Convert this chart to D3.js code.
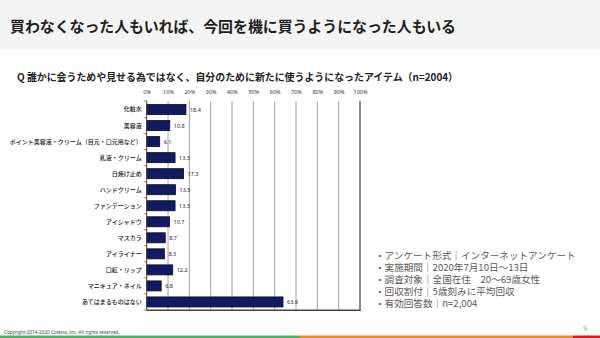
<!DOCTYPE html>
<html><head><meta charset="utf-8">
<script src="https://cdn.jsdelivr.net/npm/d3@7"></script>
<style>
html,body{margin:0;padding:0;background:#fff;}
svg{display:block;font-family:"Noto Sans CJK JP","Noto Sans",sans-serif;}
</style></head>
<body><svg id="c" width="600" height="338"></svg>
<script>
const categories = ["化粧水","美容液","ポイント美容液・クリーム（目元・口元用など）","乳液・クリーム","日焼け止め","ハンドクリーム","ファンデーション","アイシャドウ","マスカラ","アイライナー","口紅・リップ","マニキュア・ネイル","あてはまるものはない"];
const values = [18.4,10.8,6.1,13.3,17.3,13.5,13.3,10.7,8.7,8.3,12.2,6.8,63.9];
const tickValues = [0,10,20,30,40,50,60,70,80,90,100];
const title = "買わなくなった人もいれば、今回を機に買うようになった人もいる";
const subtitle = "Q 誰かに会うためや見せる為ではなく、自分のために新たに使うようになったアイテム（n=2004）";
const notes = ["・アンケート形式｜インターネットアンケート","・実施期間｜2020年7月10日～13日","・調査対象｜全国在住　20～69歳女性","・回収割付｜5歳刻みに平均回収","・有効回答数｜n=2,004"];
const copyright = "Copyright 2014-2020 Colexia, Inc. All rights reserved.";
const pageNo = "9";

const svg = d3.select("#c");
// header band
svg.append("rect").attr("x",0).attr("y",0).attr("width",600).attr("height",49).attr("fill","#f4f4f4");
svg.append("text").attr("x",10).attr("y",25.5).attr("dominant-baseline","central")
  .attr("font-size",15).attr("font-weight",700).attr("fill","#1e1e1e")
  .attr("textLength",446).attr("lengthAdjust","spacingAndGlyphs").text(title);
svg.append("text").attr("x",17).attr("y",76).attr("dominant-baseline","central")
  .attr("font-size",10.5).attr("font-weight",700).attr("fill","#222")
  .attr("textLength",441).attr("lengthAdjust","spacingAndGlyphs").text(subtitle);

const x = d3.scaleLinear().domain([0,100]).range([146.7,360]);
const y = d3.scaleBand().domain(categories).range([101.5,310]).paddingInner(0.375).paddingOuter(0.19);

const g = svg.append("g");
// gridlines
g.selectAll("line.grid").data(tickValues.filter(d=>d>0 && d<100)).join("line")
  .attr("x1",d=>x(d)).attr("x2",d=>x(d)).attr("y1",101).attr("y2",310)
  .attr("stroke","#8a8a8a").attr("stroke-width",0.8);
// top tick labels
const topAxis = d3.axisTop(x).tickValues(tickValues).tickFormat(d=>d+"%").tickSize(0).tickPadding(0);
const ta = g.append("g").attr("transform","translate(0,92)").call(topAxis);
ta.select(".domain").remove();
ta.selectAll("text").attr("font-size",5.5).attr("fill","#333").attr("dy","0.35em").attr("font-family","Noto Sans, sans-serif");

// bars
g.selectAll("rect.bar").data(values).join("rect")
  .attr("x",x(0)).attr("y",(d,i)=>y(categories[i]))
  .attr("width",d=>x(d)-x(0)).attr("height",y.bandwidth())
  .attr("fill","#101c5e").attr("stroke","#070b33").attr("stroke-width",0.8);
// value labels
g.selectAll("text.val").data(values).join("text")
  .attr("x",d=>x(d)+4).attr("y",(d,i)=>y(categories[i])+y.bandwidth()/2)
  .attr("dominant-baseline","central").attr("font-size",5.5).attr("fill","#222")
  .attr("font-family","Noto Sans, sans-serif").text(d=>d.toFixed(1));

// left axis with category labels
const leftAxis = d3.axisLeft(y).tickSize(0).tickPadding(5);
const la = g.append("g").attr("transform",`translate(${x(0)},0)`).call(leftAxis);
la.select(".domain").attr("stroke","#444").attr("stroke-width",1).attr("d",`M0,101V310`);
la.selectAll("text").attr("font-size",6).attr("fill","#111").attr("font-weight",500)
  .attr("font-family","Noto Sans CJK JP, sans-serif");
// band boundary ticks
const bounds = d3.range(categories.length+1).map(i=> i===0 ? 101 : (i===categories.length ? 310 : (y(categories[i-1])+y.bandwidth()+y(categories[i]))/2));
g.selectAll("line.bt").data(bounds).join("line")
  .attr("x1",x(0)-3).attr("x2",x(0)).attr("y1",d=>d).attr("y2",d=>d)
  .attr("stroke","#555").attr("stroke-width",0.7);
// right & bottom border
g.append("line").attr("x1",x(100)).attr("x2",x(100)).attr("y1",101).attr("y2",310.5).attr("stroke","#555").attr("stroke-width",1.4);
g.append("line").attr("x1",x(0)).attr("x2",x(100)+0.7).attr("y1",310.3).attr("y2",310.3).attr("stroke","#444").attr("stroke-width",1.4);

// notes
svg.append("g").selectAll("text").data(notes).join("text")
  .attr("x",375).attr("y",(d,i)=>255+i*12).attr("dominant-baseline","central")
  .attr("font-size",9.6).attr("fill","#595959").text(d=>d);

// footer
svg.append("text").attr("x",4).attr("y",331.5).attr("dominant-baseline","central")
  .attr("font-size",4.7).attr("fill","#444").attr("font-family","Noto Sans, sans-serif").text(copyright);
svg.append("text").attr("x",585).attr("y",328).attr("dominant-baseline","central").attr("text-anchor","middle")
  .attr("font-size",7).attr("fill","#9a9a9a").attr("font-family","Noto Sans, sans-serif").text(pageNo);
// bottom stripe
const stripe = [[0,300,"#4caf63"],[300,573,"#ee8a22"],[573,600,"#e8141b"]];
svg.append("g").selectAll("rect").data(stripe).join("rect")
  .attr("x",d=>d[0]).attr("y",335.5).attr("width",d=>d[1]-d[0]).attr("height",2.5).attr("fill",d=>d[2]);
</script></body></html>
